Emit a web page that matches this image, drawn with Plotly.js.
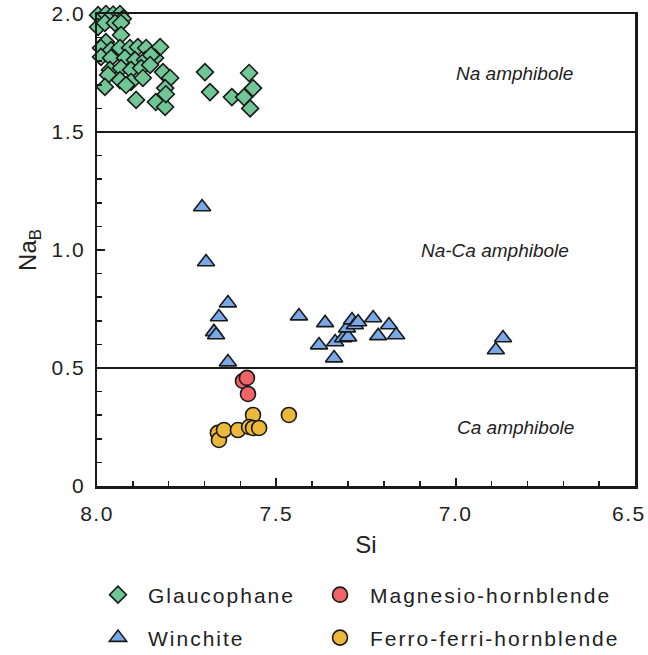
<!DOCTYPE html>
<html>
<head>
<meta charset="utf-8">
<script src="https://cdn.plot.ly/plotly-3.0.1.min.js"></script>
<style>
html,body{margin:0;padding:0;background:#fff}
#chart{width:648px;height:655px}
#chart .xtick text, #chart .ytick text{letter-spacing:1.5px}
</style>
</head>
<body>
<div id="chart"></div>
<script>
// Glaucophane
const glaSi = [7.997,7.975,7.955,7.936,7.928,7.997,7.978,7.950,7.933,7.933,7.975,7.989,7.961,7.936,7.908,7.886,7.863,7.824,7.989,7.961,7.922,7.894,7.866,7.838,7.849,7.964,7.933,7.905,7.877,7.852,7.816,7.969,7.936,7.905,7.872,7.796,7.978,7.919,7.810,7.891,7.836,7.810,7.808,
  7.699,7.685,7.624,7.576,7.565,7.590,7.573];
const glaNa = [1.995,2.000,1.998,2.000,1.980,1.945,1.962,1.962,1.962,1.911,1.881,1.856,1.847,1.856,1.856,1.860,1.856,1.860,1.818,1.814,1.814,1.805,1.805,1.814,1.826,1.763,1.771,1.763,1.771,1.784,1.754,1.742,1.720,1.712,1.729,1.729,1.691,1.699,1.686,1.636,1.627,1.606,1.660,
  1.754,1.669,1.648,1.750,1.686,1.648,1.600];
// Winchite
const winSi = [7.707,7.696,7.635,7.660,7.674,7.668,7.635,7.437,7.364,7.381,7.339,7.336,7.314,7.300,7.303,7.289,7.281,7.272,7.230,7.216,7.186,7.166,6.868,6.888];
const winNa = [1.182,0.949,0.775,0.716,0.653,0.640,0.525,0.720,0.691,0.597,0.542,0.610,0.627,0.631,0.669,0.703,0.682,0.695,0.712,0.636,0.682,0.640,0.627,0.576];
// Magnesio-hornblende
const mhbSi = [7.593,7.582,7.579];
const mhbNa = [0.445,0.458,0.390];
// Ferro-ferri-hornblende
const ffhSi = [7.565,7.465,7.663,7.660,7.646,7.607,7.576,7.565,7.548];
const ffhNa = [0.301,0.301,0.225,0.195,0.237,0.237,0.250,0.246,0.246];

const seriesNames = ["Glaucophane","Magnesio-hornblende","Winchite","Ferro-ferri-hornblende"];
const xTicks = [8.0,7.5,7.0,6.5];
const xTickText = ["8.0","7.5","7.0","6.5"];
const yTicks = [0,0.5,1.0,1.5,2.0];
const yTickText = ["0","0.5","1.0","1.5","2.0"];
const fieldNames = ["Na amphibole","Na-Ca amphibole","Ca amphibole"];
const fieldY = [1.75,1.0,0.25];
const fieldX = [6.837,6.89,6.832];
const boundaries = [0.5,1.5];

const FONT = "Liberation Sans, Arial, sans-serif";
const edge = {color:"#1a1a1a", width:1.6};
const spaced = (t, s) => '<span style="letter-spacing:' + s + 'px">' + t + '</span>';

const traces = [
  {x:glaSi, y:glaNa, name:spaced(seriesNames[0],2), type:"scatter", mode:"markers", cliponaxis:false, legend:"legend",
   marker:{symbol:"diamond", size:13, color:"#70c795", line:edge}},
  {x:mhbSi, y:mhbNa, name:spaced(seriesNames[1],2), type:"scatter", mode:"markers", cliponaxis:false, legend:"legend2",
   marker:{symbol:"circle", size:15, color:"#ef6468", line:edge}},
  {x:winSi, y:winNa, name:spaced(seriesNames[2],2), type:"scatter", mode:"markers", cliponaxis:false, legend:"legend3",
   marker:{symbol:"triangle-up", size:15, color:"#7aa7e8", line:edge}},
  {x:ffhSi, y:ffhNa, name:spaced(seriesNames[3],2), type:"scatter", mode:"markers", cliponaxis:false, legend:"legend4",
   marker:{symbol:"circle", size:15, color:"#ebb83c", line:edge}}
];

const shapes = boundaries.map(v => ({type:"line", xref:"paper", yref:"y", x0:0, x1:1, y0:v, y1:v, line:{color:"#1a1a1a", width:2}}));
const annotations = fieldNames.map((t,i) => ({x:fieldX[i], y:fieldY[i], xref:"x", yref:"y", text:"<i>"+t+"</i>", showarrow:false,
  font:{family:FONT, size:19, color:"#222"}}));
// the last x tick label sits at the right edge; draw it nudged inward like the reference
const lastIdx = xTicks.length - 1;
annotations.push({x:xTicks[lastIdx], y:0, xref:"x", yref:"y", text:spaced(xTickText[lastIdx],1.5),
  showarrow:false, xanchor:"center", yanchor:"middle", xshift:-6, yshift:-27, font:{family:FONT, size:21, color:"#222"}});
const xTickShown = xTickText.map((t,i) => i === lastIdx ? "" : t);

const legendCommon = {orientation:"h", xref:"container", yref:"container", xanchor:"left", yanchor:"middle",
  font:{family:FONT, size:21, color:"#222"}, bgcolor:"rgba(0,0,0,0)", itemwidth:50};

const layout = {
  width:648, height:655,
  margin:{l:97, r:13, t:14, b:169, autoexpand:false},
  paper_bgcolor:"#fff", plot_bgcolor:"#fff",
  font:{family:FONT, color:"#222"},
  showlegend:true,
  xaxis:{range:[8.0,6.5], autorange:false, tickvals:xTicks, ticktext:xTickShown, ticks:"inside", ticklen:8, tickwidth:2, tickcolor:"#1a1a1a",
    minor:{dtick:0.1, ticks:"inside", ticklen:5, tickwidth:1.5, tickcolor:"#1a1a1a"},
    showline:true, linecolor:"#1a1a1a", linewidth:2.5, mirror:true, showgrid:false, zeroline:false,
    ticklabelstandoff:7,
    tickfont:{family:FONT, size:21, color:"#222"},
    title:{text:"Si", font:{family:FONT, size:24, color:"#222"}, standoff:13}},
  yaxis:{range:[0,2.0], autorange:false, tickvals:yTicks, ticktext:yTickText, ticks:"inside", ticklen:8, tickwidth:2, tickcolor:"#1a1a1a",
    minor:{dtick:0.1, ticks:"inside", ticklen:5, tickwidth:1.5, tickcolor:"#1a1a1a"},
    showline:true, linecolor:"#1a1a1a", linewidth:2.5, mirror:true, showgrid:false, zeroline:false,
    ticklabelstandoff:5,
    tickfont:{family:FONT, size:21, color:"#222"},
    title:{text:"Na<sub>B</sub>", font:{family:FONT, size:24, color:"#222"}, standoff:13}},
  shapes:shapes,
  annotations:annotations,
  legend:Object.assign({x:0.1358, y:0.0916}, legendCommon),
  legend2:Object.assign({x:0.4784, y:0.0916}, legendCommon),
  legend3:Object.assign({x:0.1358, y:0.026}, legendCommon),
  legend4:Object.assign({x:0.4784, y:0.026}, legendCommon)
};

Plotly.newPlot("chart", traces, layout, {displayModeBar:false, staticPlot:true});
</script>
</body>
</html>
